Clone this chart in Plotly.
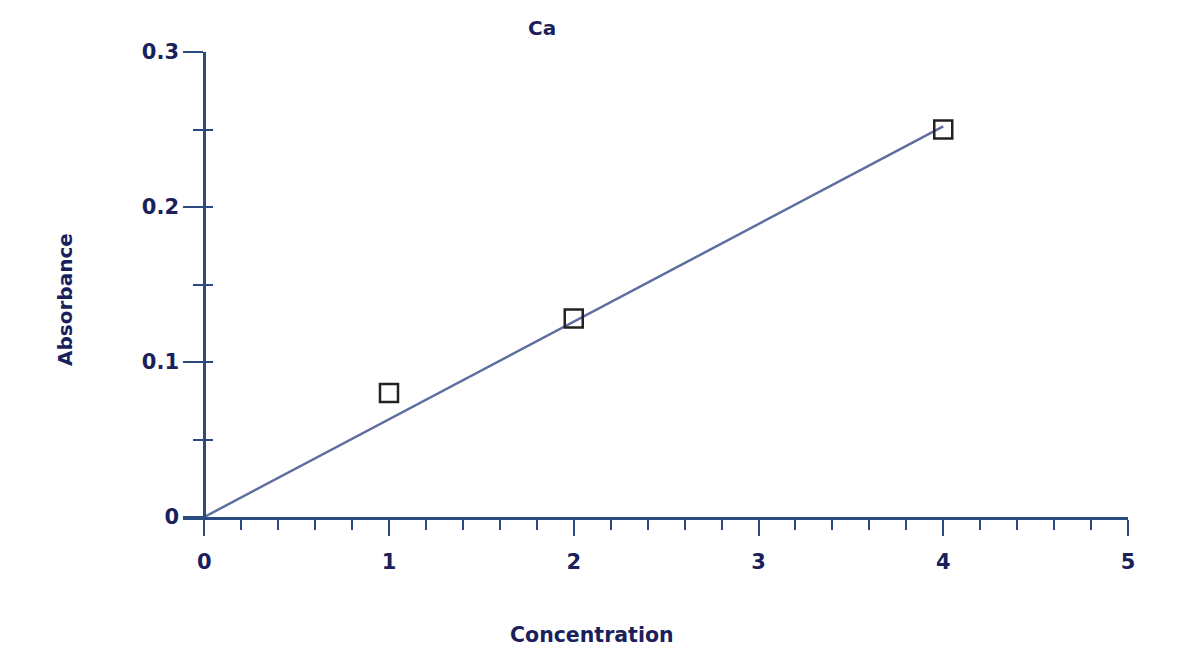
import plotly.graph_objects as go

# Data
conc = [1, 2, 4]
absorb = [0.080, 0.128, 0.250]
fit_x = [0, 4]
fit_y = [0, 0.252]
x_tickvals = [0, 1, 2, 3, 4, 5]
x_ticktext = ["0", "1", "2", "3", "4", "5"]
y_tickvals = [0, 0.1, 0.2, 0.3]
y_ticktext = ["0", "0.1", "0.2", "0.3"]

NAVY = "#1b1f5c"
AXIS = "#2b4a80"
FONT = "DejaVu Sans"

fig = go.Figure()
fig.add_trace(go.Scatter(x=fit_x, y=fit_y, mode="lines",
                         line=dict(color="#5f6e9e", width=2.5), showlegend=False))
fig.add_trace(go.Scatter(x=conc, y=absorb, mode="markers",
                         marker=dict(symbol="square-open", size=18, color="#222222",
                                     line=dict(width=2.5, color="#222222")),
                         showlegend=False))

fig.update_layout(
    width=1188, height=652,
    margin=dict(l=175, r=68, t=44, b=143),
    paper_bgcolor="white", plot_bgcolor="white",
    font=dict(family=FONT, color=NAVY, size=20),
    xaxis=dict(range=[-0.115, 5], domain=[0, 1], showgrid=False, zeroline=False,
               showline=True, linecolor=AXIS, linewidth=2.5,
               tickvals=x_tickvals, ticktext=x_ticktext,
               ticks="outside", ticklen=16, tickwidth=2, tickcolor=AXIS,
               tickfont=dict(family=FONT, size=21, color=NAVY, weight="bold"),
               ticklabelstandoff=8,
               minor=dict(tick0=0, dtick=0.2, ticks="outside", ticklen=10,
                          tickwidth=2, tickcolor=AXIS, showgrid=False),
               anchor="y"),
    yaxis=dict(range=[0, 0.3], domain=[0, 1], showgrid=False, zeroline=False,
               showline=True, linecolor=AXIS, linewidth=2.5,
               anchor="free", position=21/945,
               tickvals=y_tickvals, ticktext=y_ticktext,
               ticks="outside", ticklen=20, tickwidth=2, tickcolor=AXIS,
               tickfont=dict(family=FONT, size=21, color=NAVY, weight="bold"),
               minor=dict(tick0=0, dtick=0.05, ticks="outside", ticklen=10,
                          tickwidth=2, tickcolor=AXIS, showgrid=False)),
    yaxis2=dict(range=[0, 0.3], domain=[0, 1], overlaying="y", anchor="free",
                position=21/945, showgrid=False, zeroline=False, showline=False,
                tickvals=y_tickvals, showticklabels=False,
                ticks="inside", ticklen=6, tickwidth=2, tickcolor=AXIS,
                minor=dict(tick0=0, dtick=0.05, ticks="inside", ticklen=8,
                           tickwidth=2, tickcolor=AXIS, showgrid=False)),
)

# invisible trace to activate yaxis2
fig.add_trace(go.Scatter(x=[0], y=[0], yaxis="y2", mode="markers",
                         marker=dict(opacity=0), showlegend=False, hoverinfo="skip"))

fig.add_annotation(text="<b>Ca</b>", xref="paper", yref="paper", x=0.3799, y=1.0516,
                   xanchor="center", yanchor="middle", showarrow=False,
                   font=dict(family=FONT, size=20, color=NAVY))
fig.add_annotation(text="<b>Concentration</b>", xref="paper", yref="paper",
                   x=0.4328, y=-0.2538, xanchor="center", yanchor="middle",
                   showarrow=False, font=dict(family=FONT, size=20.5, color=NAVY))
fig.add_annotation(text="<b>Absorbance</b>", xref="paper", yref="paper",
                   x=-0.1249, y=0.4688, textangle=-90, xanchor="center",
                   yanchor="middle", showarrow=False,
                   font=dict(family=FONT, size=20, color=NAVY))

fig.write_html("out.html")
